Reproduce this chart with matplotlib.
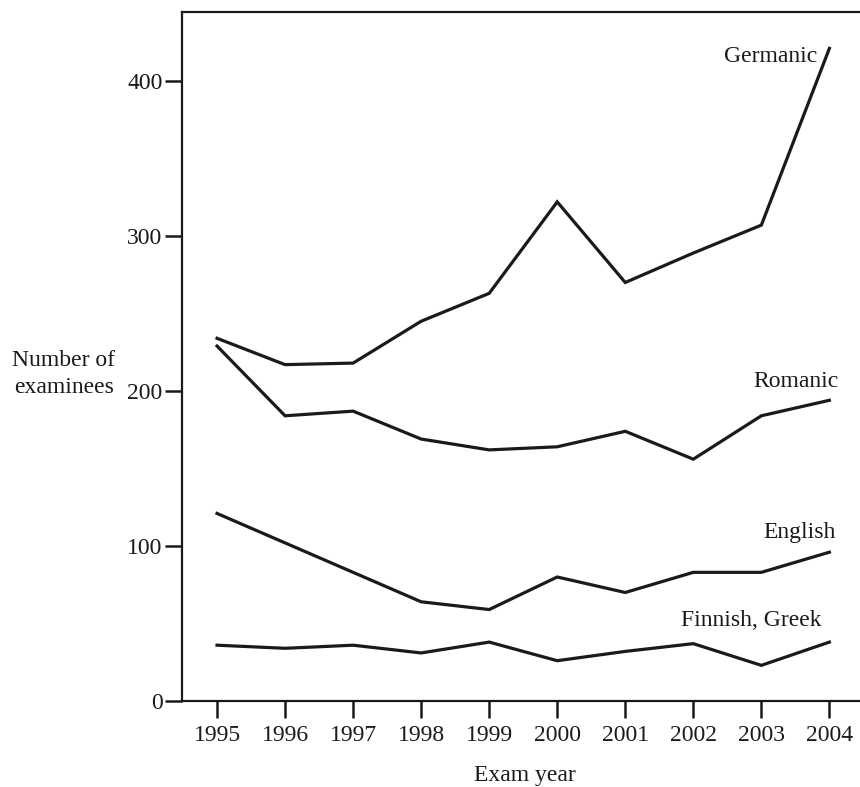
import matplotlib
matplotlib.use("Agg")
import matplotlib.pyplot as plt

years = [1995, 1996, 1997, 1998, 1999, 2000, 2001, 2002, 2003, 2004]

germanic = [234, 217, 218, 245, 263, 322, 270, 289, 307, 421]
romanic = [229, 184, 187, 169, 162, 164, 174, 156, 184, 194]
english = [121, 102, 83, 64, 59, 80, 70, 83, 83, 96]
finnish_greek = [36, 34, 36, 31, 38, 26, 32, 37, 23, 38]

series = [
    ("Germanic", germanic, (2003.82, 416)),
    ("Romanic", romanic, (2004.13, 206)),
    ("English", english, (2004.09, 109)),
    ("Finnish, Greek", finnish_greek, (2003.88, 52)),
]

plt.rcParams["font.family"] = ["Liberation Serif", "DejaVu Serif"]
col = "#1a1a1a"
fs = 17

fig = plt.figure(figsize=(8.6, 7.87), dpi=100)
ax = fig.add_axes([182 / 860, 1 - 701 / 787, 1 - 182 / 860, (701 - 12) / 787])

for name, vals, (lx, ly) in series:
    ax.plot(years, vals, color=col, lw=2.3, solid_joinstyle="miter")
    ax.text(lx, ly, name, ha="right", va="center", fontsize=fs, color=col)

ax.set_xlim(1994.485, 2004.45)
ax.set_ylim(0, 444.5)
ax.set_xticks(years)
ax.set_yticks([0, 100, 200, 300, 400])

ax.spines["right"].set_visible(False)
for s in ["left", "top", "bottom"]:
    ax.spines[s].set_linewidth(1.6)
    ax.spines[s].set_color(col)

ax.tick_params(axis="both", colors=col, labelsize=fs, width=1.8, length=12)
ax.tick_params(axis="x", pad=5)
ax.tick_params(axis="y", pad=2)

fig.text(64 / 860, 1 - 374 / 787, "Number of\nexaminees", ha="center", va="center",
         fontsize=fs, color=col, linespacing=1.35)
fig.text(525 / 860, 1 - 776 / 787, "Exam year", ha="center", va="center",
         fontsize=fs, color=col)

fig.savefig("out.png", dpi=100)
